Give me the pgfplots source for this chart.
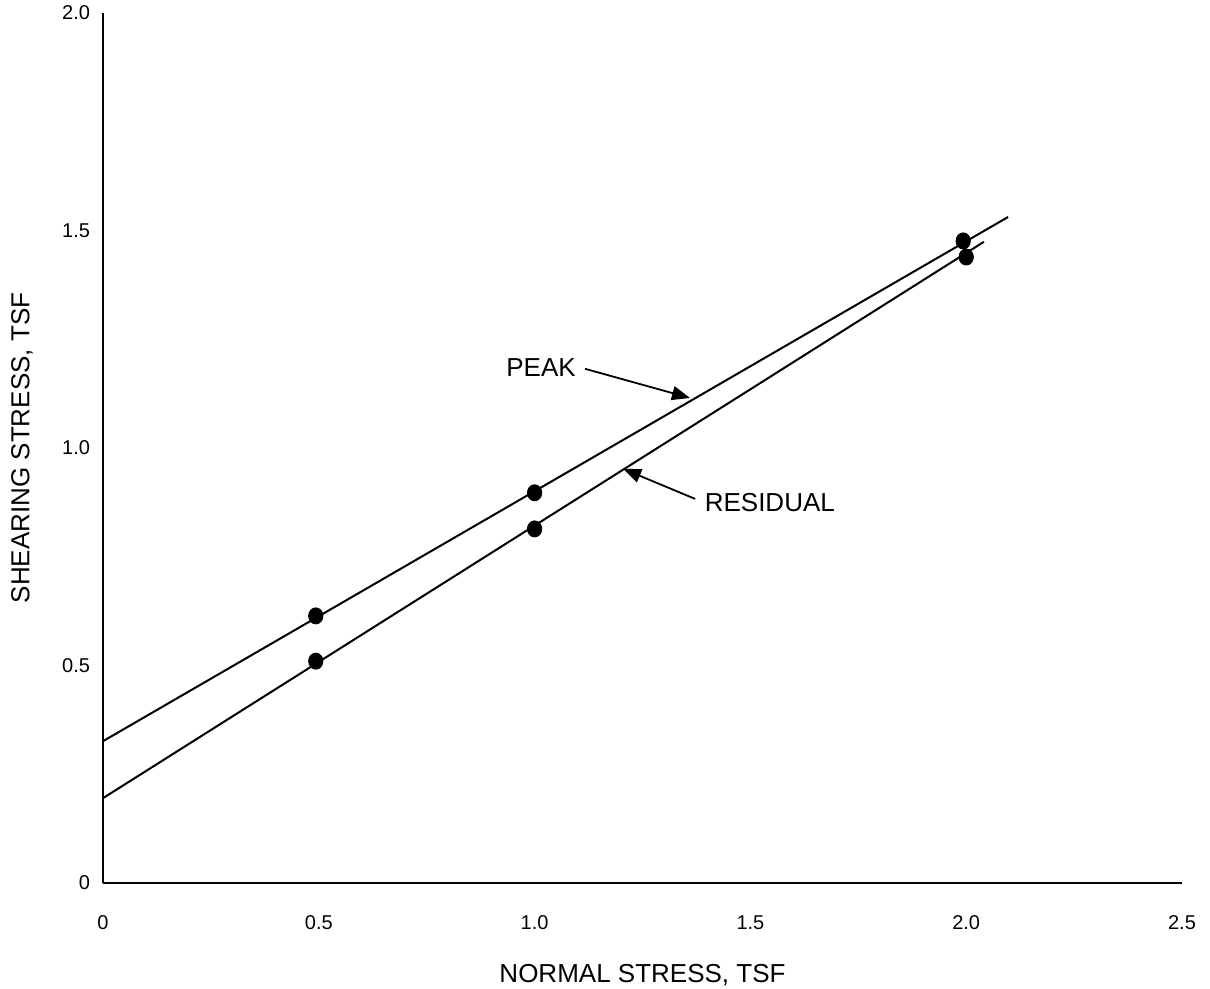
\documentclass[border=0pt]{standalone}
\usepackage{pgfplots}
\pgfplotsset{compat=1.18}
\usepackage{fontspec}
\setmainfont{Liberation Sans}
\usetikzlibrary{arrows.meta}
\begin{document}
\begin{tikzpicture}
\useasboundingbox (0,0) rectangle (605pt,494.5pt);
\begin{axis}[
  at={(51.5pt,53pt)}, anchor=south west,
  scale only axis, width=539.5pt, height=435pt,
  xmin=0, xmax=2.5, ymin=0, ymax=2.0,
  axis x line=bottom, axis y line=left,
  axis line style={-, line width=1.3pt},
  major tick length=0pt,
  xtick={0,0.5,1,1.5,2,2.5}, xticklabels={0,0.5,1.0,1.5,2.0,2.5},
  ytick={0,0.5,1,1.5,2}, yticklabels={0,0.5,1.0,1.5,2.0},
  /pgf/number format/assume math mode=true,
  tick label style={font=\fontsize{10}{12}\selectfont},
  xticklabel style={yshift=-12pt, text height=7.5pt, text depth=0pt},
  yticklabel style={xshift=-3pt},
  label style={font=\fontsize{13}{15}\selectfont},
  xlabel={NORMAL STRESS, TSF},
  ylabel={SHEARING STRESS, TSF},
  xlabel style={at={(axis description cs:0.5,-0.106)}, anchor=center},
  ylabel style={at={(axis description cs:-0.075,0.5)}, anchor=center},
  clip=false,
]
\addplot[black, line width=1pt] coordinates {(0,0.326) (2.097,1.531)};
\addplot[black, line width=1pt] coordinates {(0,0.195) (2.041,1.474)};
\addplot[only marks, mark=*, mark size=3.6pt, mark options={black, yscale=1.12}] coordinates {(0.493,0.614) (1.0,0.897) (1.993,1.476)};
\addplot[only marks, mark=*, mark size=3.6pt, mark options={black, yscale=1.12}] coordinates {(0.493,0.510) (1.0,0.814) (2.0,1.439)};
\node[font=\fontsize{13}{15}\selectfont] at (axis cs:1.015,1.184) {PEAK};
\draw[-{Triangle[length=9pt,width=7pt]}, line width=0.9pt] (axis cs:1.117,1.182) -- (axis cs:1.360,1.115);
\node[font=\fontsize{13}{15}\selectfont] at (axis cs:1.545,0.874) {RESIDUAL};
\draw[-{Triangle[length=9pt,width=7pt]}, line width=0.9pt] (axis cs:1.372,0.883) -- (axis cs:1.205,0.952);
\end{axis}
\end{tikzpicture}
\end{document}
